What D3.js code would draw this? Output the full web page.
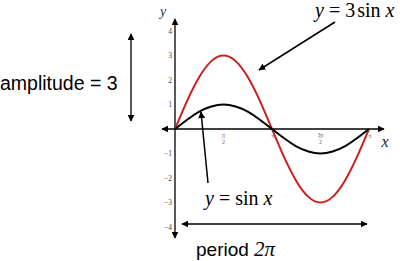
<!DOCTYPE html>
<html>
<head>
<meta charset="utf-8">
<script src="https://cdn.jsdelivr.net/npm/d3@7"></script>
<style>
  body { margin: 0; background: #fff; }
  svg { display: block; }
</style>
</head>
<body>
<div id="chart"></div>
<script>
// x positions in multiples of pi/8
var xSteps = [0, 1, 2, 3, 4, 5, 6, 7, 8, 9, 10, 11, 12, 13, 14, 15, 16];
var sinValues = [0, 0.38, 0.71, 0.92, 1, 0.92, 0.71, 0.38, 0, -0.38, -0.71, -0.92, -1, -0.92, -0.71, -0.38, 0];
var sin3Values = [0, 1.15, 2.12, 2.77, 3, 2.77, 2.12, 1.15, 0, -1.15, -2.12, -2.77, -3, -2.77, -2.12, -1.15, 0];
var yTicks = [-4, -3, -2, -1, 1, 2, 3, 4];
var xTicks = [
  {v: Math.PI / 2, num: 'π', den: '2'},
  {v: Math.PI, num: 'π', den: null},
  {v: 3 * Math.PI / 2, num: '3π', den: '2'},
  {v: 2 * Math.PI, num: 'π', den: null}
];

var width = 400;
var height = 261;

var svg = d3.select('#chart')
            .append('svg')
            .attr('width', width)
            .attr('height', height);

var defs = svg.append('defs');
defs.append('marker')
    .attr('id', 'head')
    .attr('viewBox', '0 0 10 10')
    .attr('refX', 9)
    .attr('refY', 5)
    .attr('markerWidth', 7)
    .attr('markerHeight', 7)
    .attr('markerUnits', 'userSpaceOnUse')
    .attr('orient', 'auto-start-reverse')
    .append('path')
    .attr('d', 'M0,0 L10,5 L0,10 z')
    .attr('fill', '#000');

var x = d3.scaleLinear().domain([0, 2 * Math.PI]).range([175, 369]);
var y = d3.scaleLinear().domain([-4, 4]).range([227, 31]);

// axes
svg.append('line')
    .attr('x1', x(0)).attr('x2', x(0))
    .attr('y1', 238).attr('y2', 19)
    .attr('stroke', '#000').attr('stroke-width', 1.3)
    .attr('marker-start', 'url(#head)')
    .attr('marker-end', 'url(#head)');

svg.append('line')
    .attr('x1', 162).attr('x2', 384)
    .attr('y1', y(0)).attr('y2', y(0))
    .attr('stroke', '#000').attr('stroke-width', 1.3)
    .attr('marker-start', 'url(#head)')
    .attr('marker-end', 'url(#head)');

var yAxis = svg.append('g')
    .attr('transform', 'translate(' + x(0) + ',0)')
    .call(d3.axisLeft(y).tickValues(yTicks).tickSize(0).tickPadding(3)
          .tickFormat(function(d){ return d < 0 ? '\u2212' + (-d) : d; }));
yAxis.select('.domain').remove();
yAxis.selectAll('text')
    .attr('font-family', 'Liberation Serif')
    .attr('font-size', 7.5)
    .attr('fill', '#444');

// x tick labels (small fractions)
var xt = svg.selectAll('g.xt')
    .data(xTicks)
    .enter()
    .append('g')
    .attr('class', 'xt')
    .attr('transform', function(d){ return 'translate(' + (x(d.v) + (d.den ? 0 : 1)) + ',' + (y(0) + 9) + ')'; })
    .attr('font-family', 'Liberation Serif')
    .attr('font-size', 6)
    .attr('fill', '#666')
    .attr('text-anchor', 'middle');

xt.append('text')
    .attr('y', function(d){ return d.den ? -1 : 0; })
    .text(function(d){ return d.num; });
xt.filter(function(d){ return d.den; })
    .append('line')
    .attr('x1', -2).attr('x2', 2)
    .attr('y1', 0).attr('y2', 0)
    .attr('stroke', '#999').attr('stroke-width', 0.5);
xt.filter(function(d){ return d.den; })
    .append('text')
    .attr('y', 5.5)
    .text(function(d){ return d.den; });

// curves
var line = function(vals){
  return d3.line()
    .x(function(d, i){ return x(xSteps[i] * Math.PI / 8); })
    .y(function(d){ return y(d); })
    .curve(d3.curveNatural)(vals);
};

svg.append('path')
    .attr('d', line(sin3Values))
    .attr('fill', 'none')
    .attr('stroke', '#cc1e1e')
    .attr('stroke-width', 2);

svg.append('path')
    .attr('d', line(sinValues))
    .attr('fill', 'none')
    .attr('stroke', '#000')
    .attr('stroke-width', 2);

// axis names
svg.append('text')
    .attr('x', 163).attr('y', 16)
    .attr('font-family', 'Liberation Serif')
    .attr('font-style', 'italic')
    .attr('font-size', 14)
    .attr('text-anchor', 'middle')
    .attr('fill', '#333')
    .text('y');

svg.append('text')
    .attr('x', 385).attr('y', 147)
    .attr('font-family', 'Liberation Serif')
    .attr('font-style', 'italic')
    .attr('font-size', 16)
    .attr('text-anchor', 'middle')
    .attr('fill', '#222')
    .text('x');

// labels for the curves
var eq3 = svg.append('text')
    .attr('x', 315).attr('y', 17)
    .attr('font-family', 'Liberation Serif')
    .attr('font-size', 20)
    .attr('fill', '#000');
eq3.append('tspan').attr('font-style', 'italic').text('y');
eq3.append('tspan').text(' = 3');
eq3.append('tspan').attr('dx', 2).text('sin ');
eq3.append('tspan').attr('font-style', 'italic').text('x');

svg.append('line')
    .attr('x1', 335).attr('y1', 22)
    .attr('x2', 259).attr('y2', 70)
    .attr('stroke', '#000').attr('stroke-width', 1.5)
    .attr('marker-end', 'url(#head)');

var eq1 = svg.append('text')
    .attr('x', 205).attr('y', 205)
    .attr('font-family', 'Liberation Serif')
    .attr('font-size', 20)
    .attr('fill', '#000');
eq1.append('tspan').attr('font-style', 'italic').text('y');
eq1.append('tspan').text(' = sin ');
eq1.append('tspan').attr('font-style', 'italic').text('x');

svg.append('line')
    .attr('x1', 208).attr('y1', 183)
    .attr('x2', 201).attr('y2', 112)
    .attr('stroke', '#000').attr('stroke-width', 1.5)
    .attr('marker-end', 'url(#head)');

// amplitude
svg.append('text')
    .attr('x', 0).attr('y', 90)
    .attr('font-family', 'Liberation Sans')
    .attr('font-size', 19.5)
    .attr('fill', '#000')
    .text('amplitude = 3');

svg.append('line')
    .attr('x1', 131).attr('x2', 131)
    .attr('y1', 34).attr('y2', 121)
    .attr('stroke', '#000').attr('stroke-width', 1.3)
    .attr('marker-start', 'url(#head)')
    .attr('marker-end', 'url(#head)');

// period
svg.append('line')
    .attr('x1', 182).attr('x2', 367)
    .attr('y1', 224).attr('y2', 224)
    .attr('stroke', '#000').attr('stroke-width', 1.3)
    .attr('marker-start', 'url(#head)')
    .attr('marker-end', 'url(#head)');

var per = svg.append('text')
    .attr('x', 196).attr('y', 256)
    .attr('font-family', 'Liberation Sans')
    .attr('font-size', 19)
    .attr('fill', '#000');
per.append('tspan').text('period ');
per.append('tspan')
    .attr('font-family', 'Liberation Serif')
    .attr('font-style', 'italic')
    .attr('font-size', 21)
    .text('2π');
</script>
</body>
</html>
